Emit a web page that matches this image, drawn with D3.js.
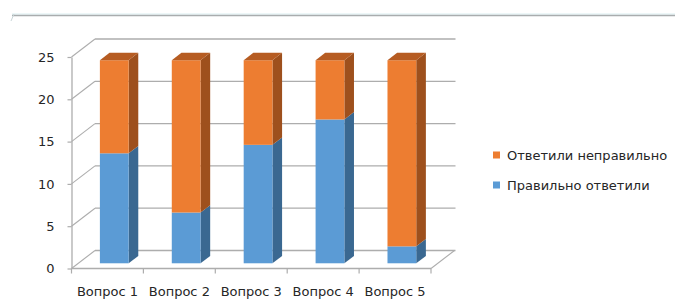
<!DOCTYPE html>
<html>
<head>
<meta charset="utf-8">
<script src="https://cdn.jsdelivr.net/npm/d3@7"></script>
<style>
  html, body { margin: 0; padding: 0; background: #fff; }
  svg { display: block; }
  text { font-family: "DejaVu Sans", sans-serif; }
</style>
</head>
<body>
<svg id="chart" width="675" height="301"></svg>
<script>
const categories = ["Вопрос 1", "Вопрос 2", "Вопрос 3", "Вопрос 4", "Вопрос 5"];
const correct = [13, 6, 14, 17, 2];
const wrong = [11, 18, 10, 7, 22];
const seriesNames = ["Правильно ответили", "Ответили неправильно"];
const yTicks = [0, 5, 10, 15, 20, 25];

const svg = d3.select("#chart");

// colours: front, side, top
const colors = {
  "Правильно ответили": { front: "#5B9BD5", side: "#3A6891", top: "#4A80B4" },
  "Ответили неправильно": { front: "#ED7D31", side: "#9E501D", top: "#B65C22" }
};

// 3D geometry
const DX = 23.5, DY = -18;       // full depth offset of back wall
const F1 = 0.29, F2 = 0.70;      // bar front/back depth fractions

const x = d3.scaleBand().domain(categories).range([71.5, 431]).paddingInner(0).paddingOuter(0);
const y = d3.scaleLinear().domain([0, 25]).range([268.5, 57]);
const bw = x.bandwidth();

function P(px, v, f) { return [px + DX * f, y(v) + DY * f]; }

const gridColor = "#ADADAD";

// top decorative line
svg.append("line").attr("x1", 12).attr("x2", 675).attr("y1", 14).attr("y2", 14)
  .attr("stroke", "#DCEFF1").attr("stroke-width", 1.2);
svg.append("line").attr("x1", 12).attr("x2", 675).attr("y1", 15.5).attr("y2", 15.5)
  .attr("stroke", "#A9ADAE").attr("stroke-width", 1.3);
svg.append("line").attr("x1", 14).attr("x2", 11).attr("y1", 14).attr("y2", 21)
  .attr("stroke", "#C9D6D8").attr("stroke-width", 1);

const x0 = x.range()[0], x1 = x.range()[1];

// back wall gridlines + side wall diagonals
const grid = svg.append("g");
yTicks.forEach(t => {
  const a = P(x0, t, 0), b = P(x0, t, 1), c = P(x1, t, 1);
  grid.append("line").attr("x1", b[0]).attr("y1", b[1]).attr("x2", c[0] + 1).attr("y2", c[1])
    .attr("stroke", gridColor).attr("stroke-width", 1.3);
  grid.append("line").attr("x1", a[0]).attr("y1", a[1]).attr("x2", b[0]).attr("y2", b[1])
    .attr("stroke", gridColor).attr("stroke-width", 1.1);
});
// floor right edge
{
  const a = P(x1, 0, 0), b = P(x1, 0, 1);
  grid.append("line").attr("x1", a[0]).attr("y1", a[1]).attr("x2", b[0]).attr("y2", b[1])
    .attr("stroke", gridColor).attr("stroke-width", 1.1);
}

// bars
const stacked = d3.stack().keys(seriesNames)(
  categories.map((c, i) => ({ cat: c, "Правильно ответили": correct[i], "Ответили неправильно": wrong[i] }))
);

const barsG = svg.append("g");
categories.forEach((c, i) => {
  const bx0 = x(c) + bw * 0.3, bx1 = x(c) + bw * 0.7;
  stacked.forEach((s, si) => {
    const lo = s[i][0], hi = s[i][1];
    const col = colors[s.key];
    // side face
    const side = [P(bx1, lo, F1), P(bx1, lo, F2), P(bx1, hi, F2), P(bx1, hi, F1)];
    barsG.append("polygon").attr("points", side.map(p => p.join(",")).join(" "))
      .attr("fill", col.side);
    // front face
    const fa = P(bx0, hi, F1), fb = P(bx1, lo, F1);
    barsG.append("rect").attr("x", fa[0]).attr("y", fa[1])
      .attr("width", fb[0] - fa[0]).attr("height", fb[1] - fa[1]).attr("fill", col.front);
    // top face on topmost segment
    if (si === stacked.length - 1) {
      const top = [P(bx0, hi, F1), P(bx1, hi, F1), P(bx1, hi, F2), P(bx0, hi, F2)];
      barsG.append("polygon").attr("points", top.map(p => p.join(",")).join(" "))
        .attr("fill", col.top);
    }
  });
});

// y axis
const yAxis = svg.append("g").attr("transform", `translate(${x0},0)`)
  .call(d3.axisLeft(y).tickValues(yTicks).tickSize(4).tickPadding(13).tickSizeOuter(0));
yAxis.select(".domain").attr("stroke", gridColor).attr("stroke-width", 1.3);
yAxis.selectAll(".tick line").attr("stroke", gridColor).attr("stroke-width", 1.2);
yAxis.selectAll(".tick text").attr("font-size", 13).attr("fill", "#262626")
  .attr("font-family", "DejaVu Sans, sans-serif");

// x axis (front floor edge)
const xG = svg.append("g").attr("transform", `translate(0,${y(0)})`);
xG.append("line").attr("x1", x0).attr("x2", x1).attr("y1", 0).attr("y2", 0)
  .attr("stroke", gridColor).attr("stroke-width", 1.3);
const bounds = categories.map(c => x(c)).concat([x1]);
bounds.forEach(b => {
  xG.append("line").attr("x1", b).attr("x2", b).attr("y1", 0).attr("y2", 5)
    .attr("stroke", gridColor).attr("stroke-width", 1.2);
});
const xAxis = svg.append("g").attr("transform", `translate(0,${y(0)})`)
  .call(d3.axisBottom(x).tickSize(0).tickPadding(18.5));
xAxis.select(".domain").remove();
xAxis.selectAll(".tick text").attr("font-size", 13).attr("fill", "#262626")
  .attr("font-family", "DejaVu Sans, sans-serif");

// legend
const legendItems = [seriesNames[1], seriesNames[0]];
const legend = svg.append("g");
legendItems.forEach((name, i) => {
  const cy = 155 + i * 30;
  legend.append("rect").attr("x", 493).attr("y", cy - 3.5).attr("width", 7).attr("height", 7)
    .attr("fill", colors[name].front);
  legend.append("text").attr("x", 507).attr("y", cy + 4.5).attr("font-size", 13)
    .attr("fill", "#262626").text(name);
});
</script>
</body>
</html>
